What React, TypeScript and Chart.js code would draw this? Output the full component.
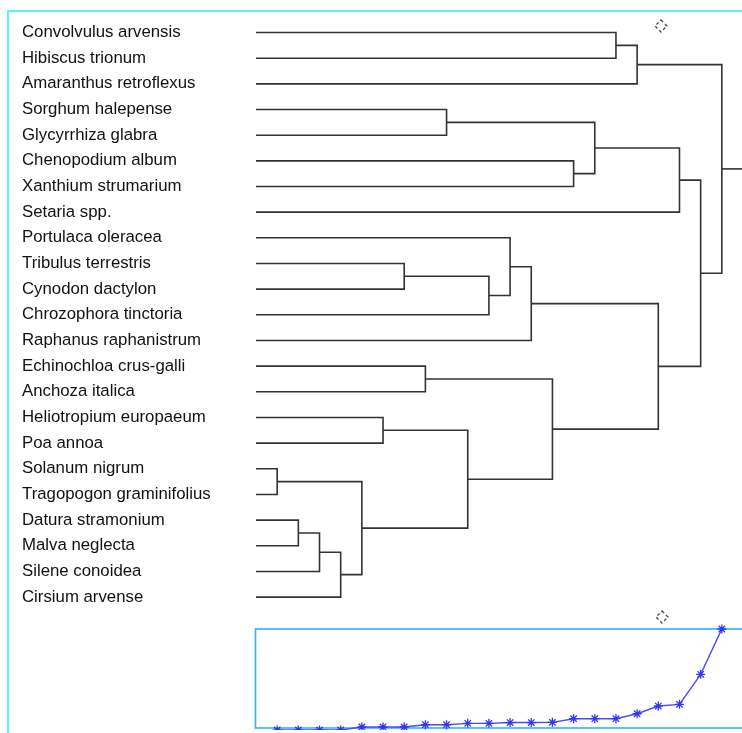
import React, { useEffect, useRef } from "react";
import { Chart, registerables } from "chart.js";

Chart.register(...registerables);

// Species in dendrogram leaf order (top to bottom)
const species = [
  "Convolvulus arvensis",
  "Hibiscus trionum",
  "Amaranthus retroflexus",
  "Sorghum halepense",
  "Glycyrrhiza glabra",
  "Chenopodium album",
  "Xanthium strumarium",
  "Setaria spp.",
  "Portulaca oleracea",
  "Tribulus terrestris",
  "Cynodon dactylon",
  "Chrozophora tinctoria",
  "Raphanus raphanistrum",
  "Echinochloa crus-galli",
  "Anchoza italica",
  "Heliotropium europaeum",
  "Poa annoa",
  "Solanum nigrum",
  "Tragopogon graminifolius",
  "Datura stramonium",
  "Malva neglecta",
  "Silene conoidea",
  "Cirsium arvense",
];

// Agglomeration steps: ids 0..22 are species, step k creates cluster id 23 + k
const mergeLeft = [17, 19, 24, 25, 23, 15, 9, 13, 3, 28, 29, 8, 34, 30, 5, 31, 0, 39, 35, 38, 42, 40];
const mergeRight = [18, 20, 21, 22, 26, 16, 10, 14, 4, 27, 11, 33, 12, 32, 6, 37, 1, 2, 36, 7, 41, 43];

// Fusion level at each agglomeration step
const fusionLevels = [-2, -2, -2, -2, 1, 1, 1, 3.3, 3.3, 4.7, 4.7, 5.5, 5.5, 5.7, 9.4, 9.4, 9.4, 14.4, 22.2, 23.9, 54.2, 100];

const FONT = "'Liberation Sans', Arial, Helvetica, sans-serif";
const LINE_COLOR = "#333333";

type Pt = { x: number; y: number };

function buildDendrogramSegments(): Pt[][] {
  const n = species.length;
  const pos: number[] = species.map((_, i) => i);
  const level: number[] = species.map(() => 0);
  const segs: Pt[][] = [];
  mergeLeft.forEach((a, k) => {
    const b = mergeRight[k];
    const h = k + 1;
    segs.push([
      { x: level[a], y: pos[a] },
      { x: h, y: pos[a] },
      { x: h, y: pos[b] },
      { x: level[b], y: pos[b] },
    ]);
    pos[n + k] = (pos[a] + pos[b]) / 2;
    level[n + k] = h;
  });
  const root = n + mergeLeft.length - 1;
  segs.push([
    { x: level[root], y: pos[root] },
    { x: mergeLeft.length + 1, y: pos[root] },
  ]);
  return segs;
}

// small dashed "rotate" handle drawn at the top right of each panel
const handlePlugin = {
  id: "rotateHandle",
  afterDraw(chart: any, _args: any, opts: any) {
    const { ctx } = chart;
    const cx = opts.x;
    const cy = opts.y;
    const r = 6;
    ctx.save();
    ctx.strokeStyle = "#444";
    ctx.lineWidth = 1.3;
    ctx.setLineDash([3, 2.5]);
    ctx.beginPath();
    ctx.moveTo(cx, cy - r);
    ctx.lineTo(cx + r, cy);
    ctx.lineTo(cx, cy + r);
    ctx.lineTo(cx - r, cy);
    ctx.closePath();
    ctx.stroke();
    ctx.restore();
  },
};

// outline of the fusion-level plot area
const boxPlugin = {
  id: "plotBox",
  beforeDatasetsDraw(chart: any) {
    const { ctx, chartArea } = chart;
    ctx.save();
    ctx.strokeStyle = "#2eb4ea";
    ctx.lineWidth = 1.6;
    ctx.strokeRect(chartArea.left - 0.5, chartArea.top, chartArea.right - chartArea.left + 40, chartArea.bottom - chartArea.top);
    ctx.restore();
  },
};

export default function App() {
  const dendroRef = useRef<HTMLCanvasElement>(null);
  const fusionRef = useRef<HTMLCanvasElement>(null);

  useEffect(() => {
    const segs = buildDendrogramSegments();
    const dendro = new Chart(dendroRef.current as HTMLCanvasElement, {
      type: "scatter",
      data: {
        datasets: segs.map((s) => ({
          data: s,
          showLine: true,
          borderColor: LINE_COLOR,
          borderWidth: 1.6,
          pointRadius: 0,
          tension: 0,
          clip: false as any,
        })),
      },
      options: {
        animation: false,
        responsive: false,
        devicePixelRatio: 1,
        layout: { autoPadding: false, padding: { left: 22, top: 19.7, right: 17, bottom: 9.7 } },
        plugins: {
          legend: { display: false },
          tooltip: { enabled: false },
          rotateHandle: { x: 661, y: 26 },
        } as any,
        scales: {
          x: { type: "linear", min: 0, max: mergeLeft.length + 1, display: false },
          y: {
            type: "linear",
            position: "left",
            reverse: true,
            min: -0.5,
            max: species.length - 0.5,
            grid: { display: false },
            border: { display: false },
            afterBuildTicks: (scale: any) => {
              scale.ticks = species.map((_, i) => ({ value: i }));
            },
            afterFit: (scale: any) => {
              scale.width = 234;
            },
            ticks: {
              autoSkip: false,
              crossAlign: "far",
              padding: 0,
              color: "#111",
              font: { family: FONT, size: 16.8 },
              callback: (v: any) => species[v] ?? "",
            },
          },
        },
      },
      plugins: [handlePlugin],
    });

    const fusion = new Chart(fusionRef.current as HTMLCanvasElement, {
      type: "scatter",
      data: {
        datasets: [
          {
            data: fusionLevels.map((v, i) => ({ x: i + 1, y: v })),
            showLine: true,
            borderColor: "#4a4aff",
            borderWidth: 1.4,
            pointStyle: "star",
            pointRadius: 4.5,
            pointBorderWidth: 1.3,
            pointBorderColor: "#3434f5",
            pointBackgroundColor: "#3434f5",
            tension: 0,
            clip: false as any,
          },
        ],
      },
      options: {
        animation: false,
        responsive: false,
        devicePixelRatio: 1,
        layout: { autoPadding: false, padding: { left: 256, top: 29, right: 17, bottom: 2 } },
        plugins: {
          legend: { display: false },
          tooltip: { enabled: false },
          rotateHandle: { x: 662, y: 17 },
        } as any,
        scales: {
          x: { type: "linear", min: 0, max: mergeLeft.length + 1, display: false },
          y: { type: "linear", min: 0, max: 100, display: false },
        },
      },
      plugins: [boxPlugin, handlePlugin],
    });

    return () => {
      dendro.destroy();
      fusion.destroy();
    };
  }, []);

  return (
    <div
      style={{
        position: "fixed",
        left: 0,
        top: 0,
        width: 742,
        height: 733,
        overflow: "hidden",
        background: "#fff",
      }}
    >
      <div
        style={{
          position: "absolute",
          left: 7,
          top: 10,
          width: 900,
          height: 900,
          borderLeft: "2px solid #5cf3f7",
          borderTop: "2px solid #5cf3f7",
        }}
      />
      <canvas
        ref={dendroRef}
        width={760}
        height={620}
        style={{ position: "absolute", left: 0, top: 0, width: 760, height: 620 }}
      />
      <canvas
        ref={fusionRef}
        width={760}
        height={130}
        style={{ position: "absolute", left: 0, top: 600, width: 760, height: 130 }}
      />
    </div>
  );
}
